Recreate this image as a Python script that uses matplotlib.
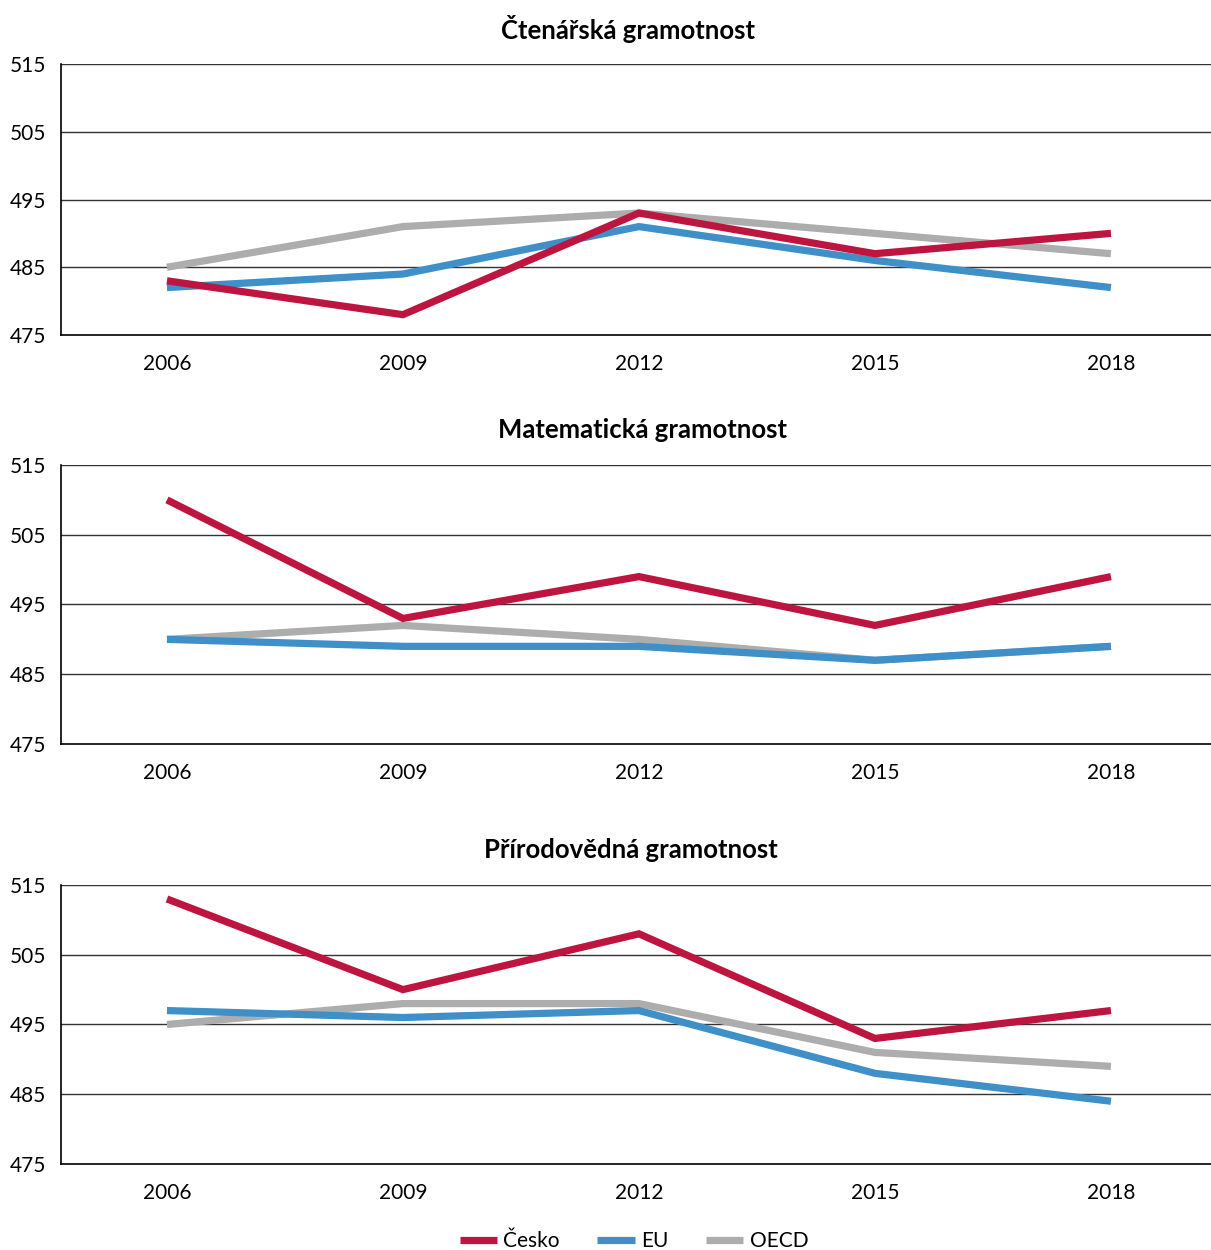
import numpy as np
import matplotlib
matplotlib.use("Agg")
import matplotlib.pyplot as plt
from matplotlib.lines import Line2D

plt.rcParams['font.family'] = ['Lato', 'DejaVu Sans']

years = ["2006", "2009", "2012", "2015", "2018"]
titles = ["Čtenářská gramotnost", "Matematická gramotnost", "Přírodovědná gramotnost"]
series_names = ["Česko", "EU", "OECD"]
colors = ["#BE1440", "#3F8FC9", "#ADADAD"]

# PISA scores per domain
cesko_reading = [483, 478, 493, 487, 490]
eu_reading = [482, 484, 491, 486, 482]
oecd_reading = [485, 491, 493, 490, 487]

cesko_math = [510, 493, 499, 492, 499]
eu_math = [490, 489, 489, 487, 489]
oecd_math = [490, 492, 490, 487, 489]

cesko_science = [513, 500, 508, 493, 497]
eu_science = [497, 496, 497, 488, 484]
oecd_science = [495, 498, 498, 491, 489]

panels = [
    [cesko_reading, eu_reading, oecd_reading],
    [cesko_math, eu_math, oecd_math],
    [cesko_science, eu_science, oecd_science],
]

W, H = 1211, 1250
fig = plt.figure(figsize=(W / 100, H / 100), dpi=100)

# pixel boxes (top, bottom) of each panel and title centres
boxes = [(64, 335), (465, 744), (885, 1164)]
title_x = [628, 642, 631]
left_px = 61
x = np.arange(len(years))

for (top, bot), tx, title, data in zip(boxes, title_x, titles, panels):
    ax = fig.add_axes([left_px / W, 1 - bot / H, 1 - left_px / W, (bot - top) / H])
    # OECD drawn first, then EU, Česko on top
    for vals, col in reversed(list(zip(data, colors))):
        ax.plot(x, vals, color=col, lw=5.2, solid_capstyle='butt',
                solid_joinstyle='miter')
    ax.set_ylim(475, 515)
    ax.set_yticks([475, 485, 495, 505, 515])
    ax.set_xlim(-0.449, 4.424)
    ax.set_xticks(x)
    ax.set_xticklabels(years)
    for yv in [485, 495, 505, 515]:
        ax.axhline(yv, color="#333333", lw=1.0, zorder=0)
    for s in ["top", "right"]:
        ax.spines[s].set_visible(False)
    ax.spines["left"].set_linewidth(1.2)
    ax.spines["bottom"].set_linewidth(1.2)
    ax.tick_params(axis='both', length=0, labelsize=15)
    ax.tick_params(axis='x', pad=14)
    ax.tick_params(axis='y', pad=11)
    fig.text(tx / W, 1 - (top - 35) / H, title, ha='center', va='center',
             fontsize=18.5, fontweight='bold')

handles = [Line2D([0], [0], color=c, lw=5.2, solid_capstyle='butt') for c in colors]
fig.legend(handles, series_names, loc='center', bbox_to_anchor=(634 / W, 1 - 1241 / H),
           ncol=3, frameon=False, fontsize=15, handlelength=1.8, columnspacing=1.8,
           handletextpad=0.3)

fig.savefig("out.png", dpi=100)
